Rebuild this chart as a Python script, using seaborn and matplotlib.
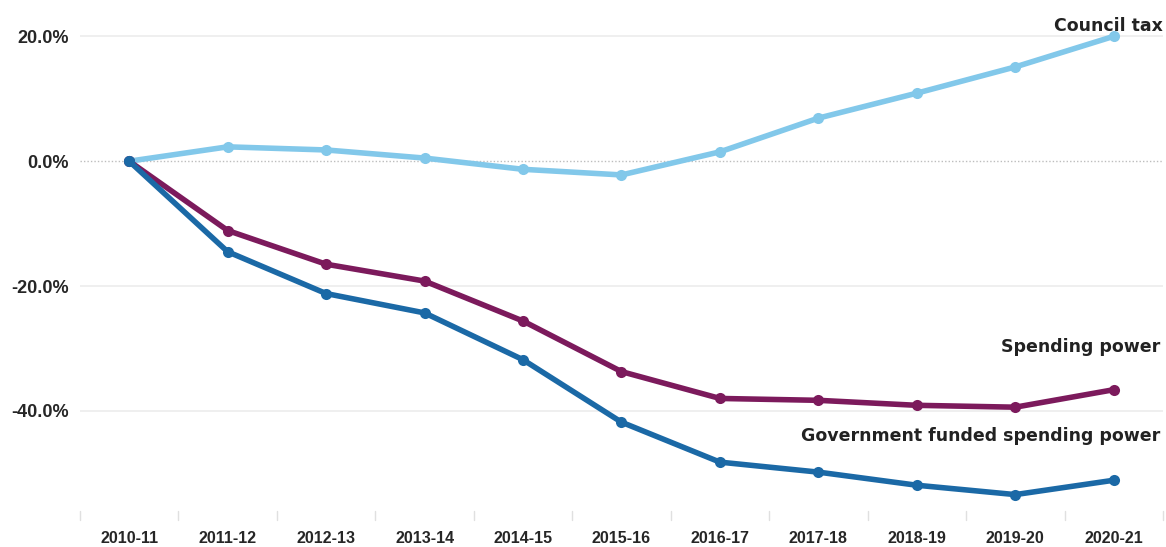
import seaborn as sns
import matplotlib.pyplot as plt
import pandas as pd

# values (% change since 2010-11)
years = ['2010-11', '2011-12', '2012-13', '2013-14', '2014-15', '2015-16',
         '2016-17', '2017-18', '2018-19', '2019-20', '2020-21']
council_tax = [0.0, 2.3, 1.8, 0.5, -1.3, -2.2, 1.5, 6.9, 10.9, 15.1, 20.0]
spending_power = [0.0, -11.1, -16.5, -19.2, -25.6, -33.7, -38.0, -38.3, -39.1, -39.4, -36.6]
gov_funded = [0.0, -14.5, -21.2, -24.3, -31.8, -41.8, -48.2, -49.8, -51.9, -53.4, -51.1]

series_names = ['Council tax', 'Spending power', 'Government funded spending power']
colours = ['#82c8ea', '#7c1a5c', '#1b69a6']

df = pd.DataFrame({'year': years * 3,
                   'value': council_tax + spending_power + gov_funded,
                   'series': [s for s in series_names for _ in years]})

sns.set_style('white')
plt.rcParams['font.family'] = ['Liberation Sans', 'DejaVu Sans']

fig = plt.figure(figsize=(11.66, 5.47), dpi=100)
ax = fig.add_axes([0.0686, 0.049, 0.9288, 0.896])

for y in [20, -20, -40]:
    ax.axhline(y, color='#ececec', lw=1.2, zorder=0)
ax.axhline(0, color='#bdbdbd', lw=1, ls=(0, (1, 1.5)), zorder=0)

sns.lineplot(data=df, x='year', y='value', hue='series', hue_order=series_names,
             palette=colours, marker='o', markersize=8, markeredgewidth=0,
             linewidth=4, legend=False, ax=ax, sort=False)

ax.set_xlim(-0.5, 10.5)
ax.set_ylim(-57.5, 21)
ax.set_yticks([20, 0, -20, -40])
ax.set_yticklabels(['20.0%', '0.0%', '-20.0%', '-40.0%'], fontsize=13, fontweight='bold')
ax.set_xticks(range(len(years)))
ax.set_xticklabels(years, fontsize=11.5, fontweight='bold')
ax.tick_params(axis='both', length=0, pad=8)
ax.tick_params(axis='x', pad=8)
for b in range(len(years) + 1):
    ax.plot([b - 0.5, b - 0.5], [-57.5, -56.0], color='#e0e0e0', lw=1, clip_on=False)
ax.set_xlabel('')
ax.set_ylabel('')
for s in ax.spines.values():
    s.set_visible(False)

lab = dict(fontsize=12.5, fontweight='bold', color='#222222', ha='right',
           va='center', family=['DejaVu Sans'])
ax.text(10.5, 21.6, 'Council tax', **lab)
ax.text(10.47, -29.7, 'Spending power', **lab)
ax.text(10.47, -44.0, 'Government funded spending power', **lab)

fig.savefig('out.png', dpi=100)
